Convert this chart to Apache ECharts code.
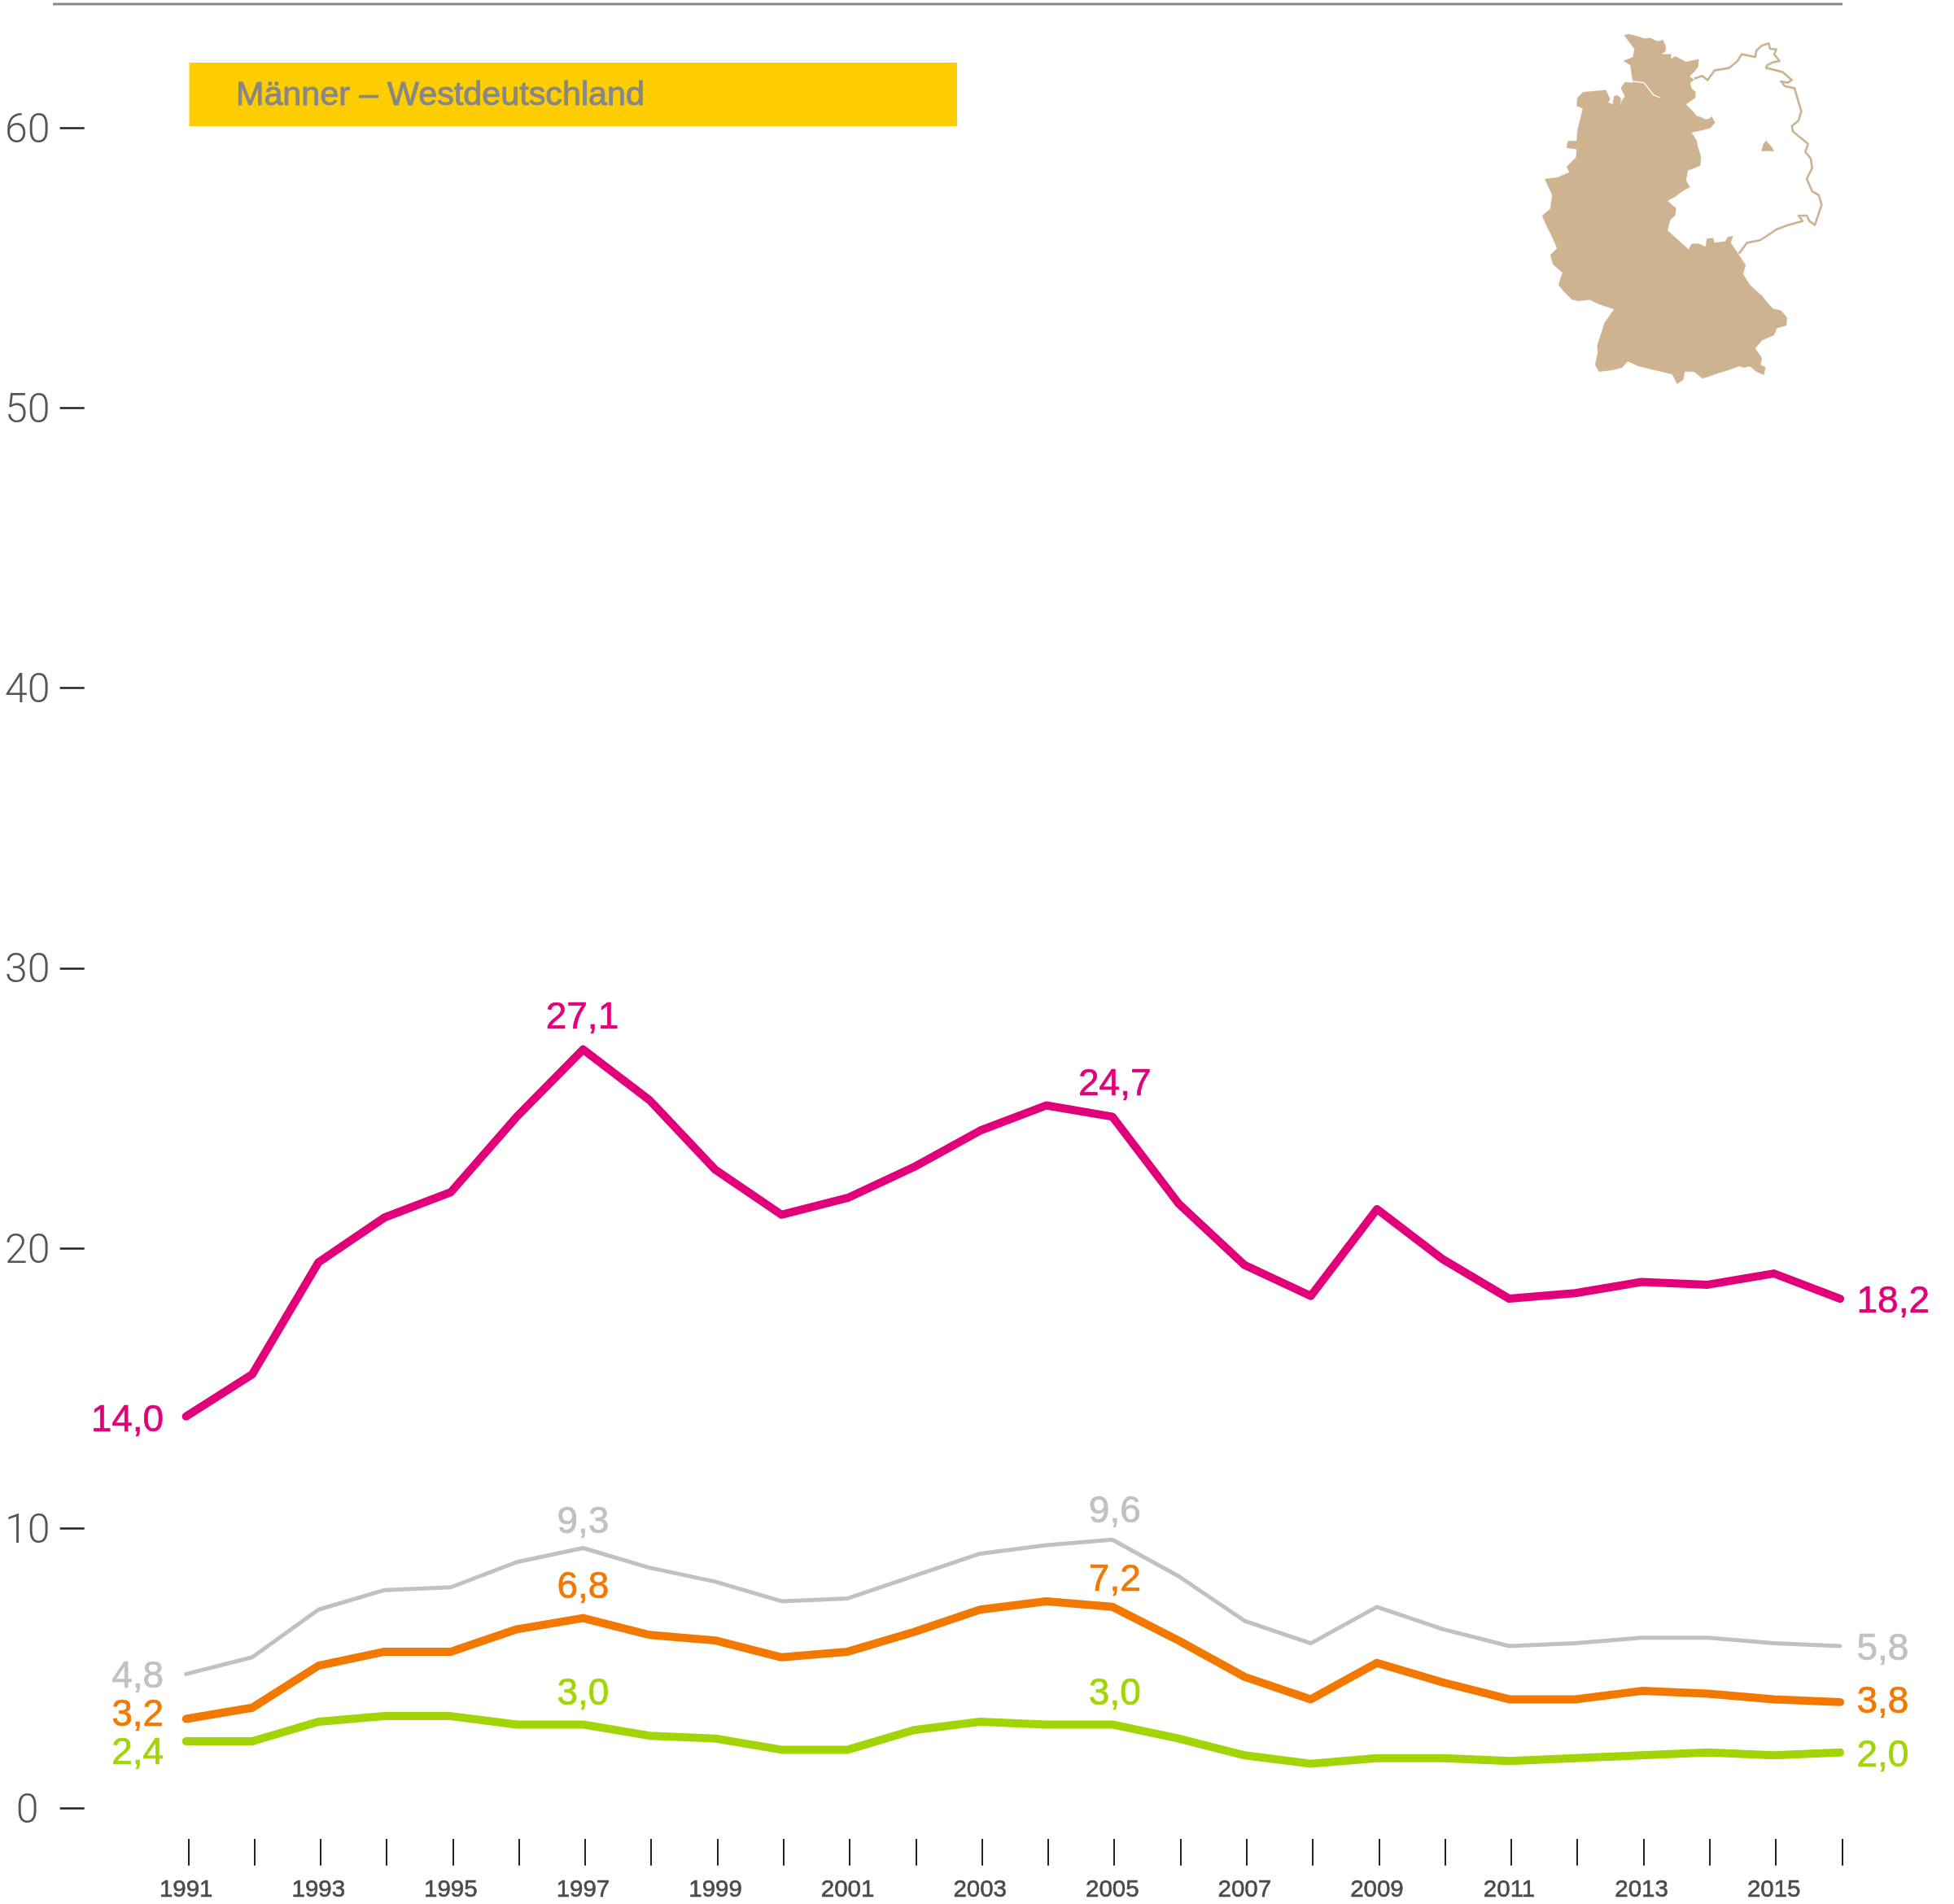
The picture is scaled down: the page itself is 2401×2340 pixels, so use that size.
<!DOCTYPE html>
<html><head><meta charset="utf-8">
<style>html,body{margin:0;padding:0;background:#fff}#c{width:2401px;height:2340px}</style>
<script src="https://cdn.jsdelivr.net/npm/echarts@6/dist/echarts.min.js"></script>
</head><body><div id="c"></div>
<script>
const years = [1991,1992,1993,1994,1995,1996,1997,1998,1999,2000,2001,2002,2003,2004,2005,2006,2007,2008,2009,2010,2011,2012,2013,2014,2015,2016].map(String);
const yTicks = [0,10,20,30,40,50,60];
const pink = [14.0,15.5,19.5,21.1,22.0,24.7,27.1,25.3,22.8,21.2,21.8,22.9,24.2,25.1,24.7,21.6,19.4,18.3,21.4,19.6,18.2,18.4,18.8,18.7,19.1,18.2];
const gray = [4.8,5.4,7.1,7.8,7.9,8.8,9.3,8.6,8.1,7.4,7.5,8.3,9.1,9.4,9.6,8.3,6.7,5.9,7.2,6.4,5.8,5.9,6.1,6.1,5.9,5.8];
const orange = [3.2,3.6,5.1,5.6,5.6,6.4,6.8,6.2,6.0,5.4,5.6,6.3,7.1,7.4,7.2,6.0,4.7,3.9,5.2,4.5,3.9,3.9,4.2,4.1,3.9,3.8];
const green = [2.4,2.4,3.1,3.3,3.3,3.0,3.0,2.6,2.5,2.1,2.1,2.8,3.1,3.0,3.0,2.5,1.9,1.6,1.8,1.8,1.7,1.8,1.9,2.0,1.9,2.0];
const title = 'Männer – Westdeutschland';

// hand-traced map shapes, in 3x crop coordinates
const westMap = [[437,70],[455,66],[490,75],[510,82],[535,80],[548,88],[560,92],[580,88],[590,110],[590,128],[575,140],[610,140],[610,158],[625,148],[650,160],[665,168],[680,165],[712,158],[710,185],[695,205],[678,222],[695,235],[680,245],[685,265],[700,280],[700,300],[665,325],[690,350],[705,368],[720,372],[735,380],[750,378],[760,370],[772,392],[755,412],[725,420],[685,428],[705,460],[708,480],[712,490],[720,520],[718,550],[695,560],[672,568],[665,605],[680,630],[660,640],[645,650],[625,665],[597,680],[628,708],[625,735],[607,750],[597,790],[625,815],[650,838],[675,860],[685,840],[710,838],[738,850],[742,820],[765,818],[770,835],[810,830],[818,815],[838,810],[830,835],[860,880],[885,918],[875,950],[900,990],[930,1018],[945,1030],[960,1050],[985,1078],[1015,1085],[1037,1110],[1035,1140],[1000,1150],[990,1175],[945,1195],[920,1225],[945,1260],[940,1285],[958,1295],[952,1322],[925,1310],[900,1290],[880,1295],[860,1290],[820,1305],[770,1320],[745,1330],[725,1335],[695,1310],[660,1310],[655,1340],[632,1355],[615,1320],[575,1310],[530,1300],[490,1290],[450,1272],[430,1295],[390,1305],[345,1310],[330,1285],[340,1240],[338,1215],[365,1130],[400,1080],[340,1060],[310,1045],[270,1050],[245,1045],[215,1015],[195,990],[210,945],[175,915],[165,880],[190,855],[170,810],[150,770],[135,735],[165,710],[172,660],[145,600],[190,595],[235,575],[225,555],[260,520],[262,490],[225,485],[230,460],[262,460],[265,420],[285,340],[262,330],[265,300],[285,280],[370,272],[385,305],[378,318],[395,325],[400,295],[412,292],[425,302],[422,330],[430,308],[440,295],[425,265],[440,243],[470,245],[465,215],[460,180],[435,165],[470,150],[475,120]];
const eastMap = [[695,230],[725,220],[745,235],[770,200],[825,190],[855,165],[870,140],[920,150],[925,125],[945,108],[970,100],[975,120],[998,122],[990,140],[1010,165],[985,170],[965,180],[960,190],[1020,205],[1055,235],[1040,245],[1015,240],[1030,258],[1065,265],[1090,350],[1080,385],[1055,405],[1060,425],[1115,470],[1105,500],[1125,525],[1130,560],[1110,600],[1130,645],[1155,660],[1165,695],[1140,770],[1120,755],[1110,735],[1080,735],[1095,755],[1040,770],[1000,785],[940,825],[890,835],[860,875]];
const elbe = [[470,240],[510,245],[545,290],[570,300]];
const berlin = [[960,458],[980,480],[990,497],[943,497],[950,470]];

const C = {pink:'#e2007a', gray:'#c1c1c1', orange:'#f37800', green:'#a1d505'};
const FONT = 'Liberation Sans';

function withLabels(values, color, cfg){
  return values.map((v,i)=>{
    const c = cfg[i];
    if(!c) return v;
    return {value:v, label:{show:true, position:c[0], distance:c[3]||0, offset:[c[1],c[2]],
      color, fontFamily:FONT, fontSize:46, textBorderColor:color, textBorderWidth:0.7,
      formatter:(Number(v).toFixed(1)).replace('.',',')}};
  });
}
function line(name, values, color, width, cfg){
  return {name, type:'line', xAxisIndex:0, yAxisIndex:0, data:withLabels(values,color,cfg),
    symbol:'circle', symbolSize:1, showSymbol:true, showAllSymbol:true, silent:true, animation:false,
    itemStyle:{color}, lineStyle:{color, width, cap:'round', join:'round'}, z:3};
}

const chart = echarts.init(document.getElementById('c'), null, {renderer:'canvas'});
const common = {left:228.7, right:2401-2261, top:157, bottom:2340-2222.7};
chart.setOption({
  backgroundColor:'#fff', animation:false,
  grid:[common, {left:231.25, right:2401-2263.3, top:157, bottom:2340-2222.7}],
  xAxis:[
    {type:'category', gridIndex:0, data:years, boundaryGap:false,
     axisLine:{show:false}, axisTick:{show:false},
     axisLabel:{interval:1, margin:100, color:'#4a4a4a', fontFamily:FONT, fontSize:29.5, verticalAlign:'middle', textBorderColor:'#4a4a4a', textBorderWidth:0.6}},
    {type:'category', gridIndex:1, data:years, boundaryGap:false, offset:37.3,
     axisLine:{show:false, onZero:false}, axisLabel:{show:false},
     axisTick:{show:true, interval:0, length:32.7, lineStyle:{color:'#222', width:2}}}
  ],
  yAxis:[
    {type:'value', gridIndex:0, min:0, max:60, interval:10, offset:125,
     axisLine:{show:false}, splitLine:{show:false},
     axisTick:{show:true, length:30, lineStyle:{color:'#222', width:2.5}},
     axisLabel:{margin:70, align:'center', verticalAlign:'top', lineHeight:10, color:'#555', fontFamily:'Roboto', fontWeight:300, fontSize:50,
       formatter:v=>yTicks.includes(v)?String(v):''}},
    {type:'value', gridIndex:1, min:0, max:60, show:false}
  ],
  series:[
    line('Grau', gray, C.gray, 5, {0:['left',-27,4],6:['top',0,4,12],14:['top',3,2,12],25:['right',20,4]}),
    line('Orange', orange, C.orange, 10, {0:['left',-27,-4],6:['top',0,-2,12],14:['top',3,3,12],25:['right',20,0]}),
    line('Grün', green, C.green, 10, {0:['left',-27,15],6:['top',0,-2,12],14:['top',3,-2,12],25:['right',20,4]}),
    line('Pink', pink, C.pink, 10, {0:['left',-27,6],6:['top',-1,-3,12],14:['top',3,-4,12],25:['right',20,4]})
  ],
  graphic:[
    {type:'rect', silent:true, shape:{x:65,y:3.5,width:2199,height:3}, style:{fill:'#888'}},
    {type:'rect', silent:true, shape:{x:232.5,y:77,width:943.5,height:78}, style:{fill:'#fdcd00'}},
    {type:'text', silent:true, x:290, y:118, style:{text:title, fill:'#878787', font:'41.3px "Liberation Sans"', verticalAlign:'middle', stroke:'#878787', lineWidth:1}},
    {type:'group', silent:true, x:1850, y:20, scaleX:1/3, scaleY:1/3, children:[
      {type:'polygon', shape:{points:westMap}, style:{fill:'#ceb391', stroke:'#ceb391', lineWidth:1}},
      {type:'polyline', shape:{points:eastMap}, style:{stroke:'#ceb391', lineWidth:8, fill:null, lineJoin:'round'}},
      {type:'polyline', shape:{points:elbe}, style:{stroke:'#fff', lineWidth:4, fill:null}},
      {type:'polygon', shape:{points:berlin}, style:{fill:'#ceb391'}}
    ]}
  ]
});
</script></body></html>
